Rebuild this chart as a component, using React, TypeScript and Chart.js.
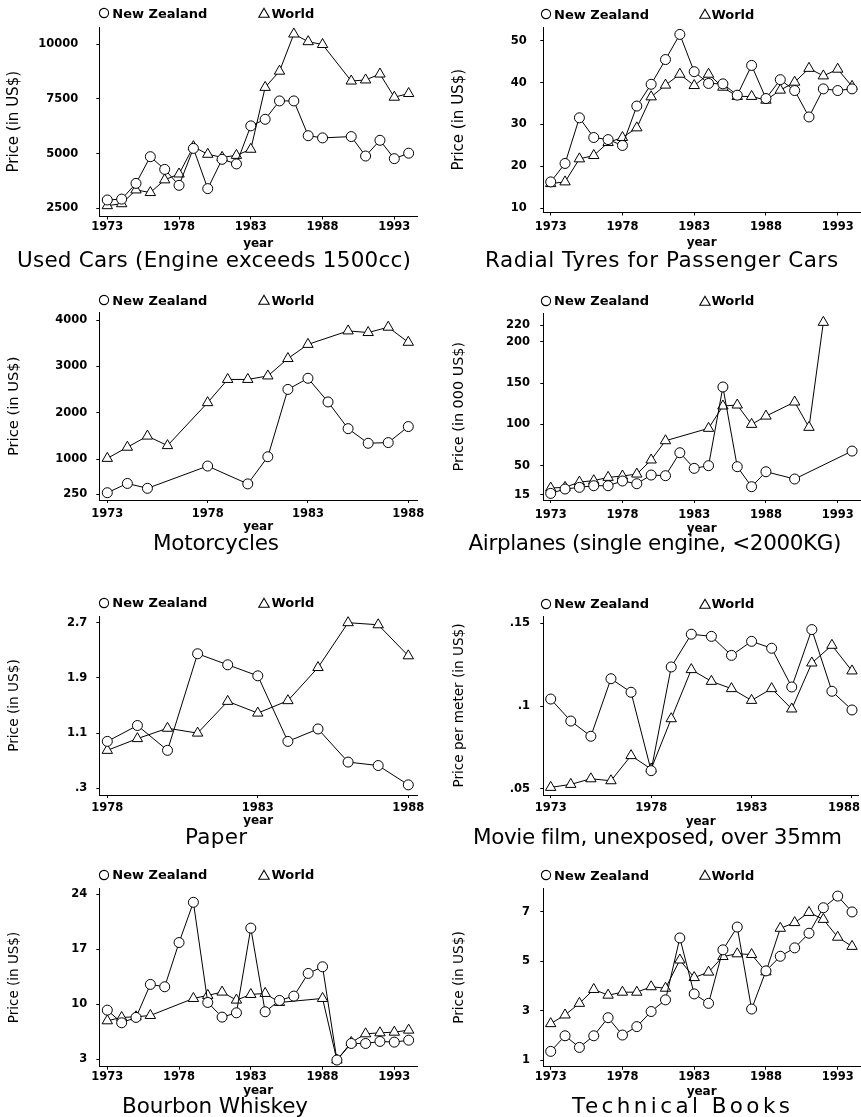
import React, { useEffect, useMemo, useRef } from "react";
import { Chart, registerables } from "chart.js";

Chart.register(...registerables);

const FAMILY = '"DejaVu Sans", "Liberation Sans", sans-serif';
Chart.defaults.font.family = FAMILY;
Chart.defaults.color = "#000";

// ---------------- Data ----------------
// Used Cars (Engine exceeds 1500cc)
const usedCarsNzYears = [1973, 1974, 1975, 1976, 1977, 1978, 1979, 1980, 1981, 1982, 1983, 1984, 1985, 1986, 1987, 1988, 1990, 1991, 1992, 1993, 1994];
const usedCarsNz = [2880, 2920, 3640, 4860, 4280, 3550, 5240, 3400, 4740, 4530, 6270, 6570, 7410, 7410, 5820, 5720, 5780, 4890, 5610, 4770, 5020];
const usedCarsWorldYears = [1973, 1974, 1975, 1976, 1977, 1978, 1979, 1980, 1981, 1982, 1983, 1984, 1985, 1986, 1987, 1988, 1990, 1991, 1992, 1993, 1994];
const usedCarsWorld = [2620, 2710, 3340, 3220, 3800, 4070, 5320, 4970, 4830, 4920, 5200, 8030, 8770, 10470, 10120, 9990, 8320, 8370, 8640, 7580, 7750];
const usedCarsYTicks = [2500, 5000, 7500, 10000];
const usedCarsYTickLabels = ["2500", "5000", "7500", "10000"];

// Radial Tyres for Passenger Cars
const tyresYears = [1973, 1974, 1975, 1976, 1977, 1978, 1979, 1980, 1981, 1982, 1983, 1984, 1985, 1986, 1987, 1988, 1989, 1990, 1991, 1992, 1993, 1994];
const tyresNz = [16.3, 20.7, 31.6, 26.9, 26.4, 25.0, 34.4, 39.6, 45.5, 51.5, 42.6, 39.8, 39.7, 37.0, 44.1, 36.2, 40.7, 38.1, 31.8, 38.5, 38.1, 38.5];
const tyresWorld = [15.9, 16.3, 21.8, 22.6, 25.7, 26.9, 29.2, 36.6, 39.4, 42.0, 39.3, 42.0, 38.9, 36.7, 36.7, 35.8, 38.2, 40.1, 43.4, 41.6, 43.2, 39.1];
const tyresYTicks = [10, 20, 30, 40, 50];
const tyresYTickLabels = ["10", "20", "30", "40", "50"];

// Motorcycles
const motoNzYears = [1973, 1974, 1975, 1978, 1980, 1981, 1982, 1983, 1984, 1985, 1986, 1987, 1988];
const motoNz = [280, 480, 375, 855, 470, 1055, 2505, 2745, 2235, 1660, 1345, 1360, 1705];
const motoWorldYears = [1973, 1974, 1975, 1976, 1978, 1979, 1980, 1981, 1982, 1983, 1985, 1986, 1987, 1988];
const motoWorld = [1020, 1260, 1500, 1295, 2220, 2720, 2720, 2795, 3170, 3475, 3765, 3730, 3845, 3520];
const motoYTicks = [250, 1000, 2000, 3000, 4000];
const motoYTickLabels = ["250", "1000", "2000", "3000", "4000"];

// Airplanes (single engine, <2000KG)
const planesNzYears = [1973, 1974, 1975, 1976, 1977, 1978, 1979, 1980, 1981, 1982, 1983, 1984, 1985, 1986, 1987, 1988, 1990, 1994];
const planesNz = [16.5, 21.8, 23.8, 25.8, 25.8, 31.5, 28.2, 38.7, 37.9, 65.7, 46.8, 50.0, 145.2, 48.8, 24.6, 42.7, 33.9, 67.7];
const planesWorldYears = [1973, 1974, 1975, 1976, 1977, 1978, 1979, 1980, 1981, 1984, 1985, 1986, 1987, 1988, 1990, 1991, 1992];
const planesWorld = [23.0, 23.8, 30.2, 31.9, 35.9, 37.5, 39.9, 56.9, 80.2, 95.2, 122.2, 123.4, 100.0, 110.0, 127.0, 96.4, 223.4];
const planesYTicks = [15, 50, 100, 150, 200, 220];
const planesYTickLabels = ["15", "50", "100", "150", "200", "220"];

// Paper
const paperYears = [1978, 1979, 1980, 1981, 1982, 1983, 1984, 1985, 1986, 1987, 1988];
const paperNz = [0.98, 1.21, 0.85, 2.25, 2.09, 1.93, 0.98, 1.16, 0.68, 0.63, 0.35];
const paperWorld = [0.85, 1.02, 1.17, 1.10, 1.56, 1.39, 1.57, 2.05, 2.70, 2.67, 2.22];
const paperYTicks = [0.3, 1.1, 1.9, 2.7];
const paperYTickLabels = [".3", "1.1", "1.9", "2.7"];

// Movie film, unexposed, over 35mm
const filmYears = [1973, 1974, 1975, 1976, 1977, 1978, 1979, 1980, 1981, 1982, 1983, 1984, 1985, 1986, 1987, 1988];
const filmNz = [0.1042, 0.0909, 0.0817, 0.1165, 0.1083, 0.0609, 0.1236, 0.1434, 0.1421, 0.1306, 0.1391, 0.1349, 0.1115, 0.1462, 0.1089, 0.0976];
const filmWorld = [0.0508, 0.0526, 0.0560, 0.0548, 0.0700, 0.0619, 0.0923, 0.1220, 0.1149, 0.1105, 0.1034, 0.1105, 0.0982, 0.1260, 0.1367, 0.1212];
const filmYTicks = [0.05, 0.1, 0.15];
const filmYTickLabels = [".05", ".1", ".15"];

// Bourbon Whiskey
const bourbonNzYears = [1973, 1974, 1975, 1976, 1977, 1978, 1979, 1980, 1981, 1982, 1983, 1984, 1985, 1986, 1987, 1988, 1989, 1990, 1991, 1992, 1993, 1994];
const bourbonNz = [9.23, 7.62, 8.30, 12.51, 12.21, 17.85, 22.98, 10.21, 8.34, 8.89, 19.69, 9.02, 10.47, 11.02, 13.91, 14.76, 2.87, 4.98, 4.98, 5.24, 5.15, 5.40];
const bourbonWorldYears = [1973, 1974, 1975, 1976, 1979, 1980, 1981, 1982, 1983, 1984, 1985, 1988, 1989, 1990, 1991, 1992, 1993, 1994];
const bourbonWorld = [7.87, 8.30, 8.38, 8.55, 10.72, 11.11, 11.53, 10.51, 11.23, 11.36, 10.21, 10.72, 2.87, 5.11, 6.21, 6.34, 6.42, 6.68];
const bourbonYTicks = [3, 10, 17, 24];
const bourbonYTickLabels = ["3", "10", "17", "24"];

// Technical Books
const booksYears = [1973, 1974, 1975, 1976, 1977, 1978, 1979, 1980, 1981, 1982, 1983, 1984, 1985, 1986, 1987, 1988, 1989, 1990, 1991, 1992, 1993, 1994];
const booksNz = [1.36, 1.99, 1.52, 1.99, 2.72, 2.02, 2.36, 2.97, 3.44, 5.94, 3.68, 3.30, 5.46, 6.38, 3.07, 4.61, 5.20, 5.54, 6.13, 7.16, 7.63, 6.99];
const booksWorld = [2.48, 2.83, 3.30, 3.86, 3.63, 3.75, 3.75, 3.97, 3.91, 5.05, 4.34, 4.56, 5.19, 5.30, 5.27, 4.57, 6.33, 6.56, 6.97, 6.69, 5.97, 5.60];
const booksYTicks = [1, 3, 5, 7];
const booksYTickLabels = ["1", "3", "5", "7"];

// x-axis tick sets
const yearTicksLong = [1973, 1978, 1983, 1988, 1993];
const yearTicksShort = [1973, 1978, 1983, 1988];
const yearTicksPaper = [1978, 1983, 1988];

const seriesNames = ["New Zealand", "World"];

// ---------------- Panel specs ----------------
interface Spec {
  title: string;
  yLabel: string;
  nzYears: number[];
  nz: number[];
  worldYears: number[];
  world: number[];
  xTicks: number[];
  yTicks: number[];
  yTickLabels: string[];
}

interface Box {
  col: 0 | 1;
  left: number; right: number; top: number; bottom: number;
  xCal: number[]; yCal: number[];
  xTickY: number; yearY: number;
  yTitleX: number; yTitleSize: number; yTickPad: number;
  legendY: number;
  titleX: number; titleBase: number; titleW: number;
}

const specs: Spec[] = [
  { title: "Used Cars (Engine exceeds 1500cc)", yLabel: "Price (in US$)", nzYears: usedCarsNzYears, nz: usedCarsNz, worldYears: usedCarsWorldYears, world: usedCarsWorld, xTicks: yearTicksLong, yTicks: usedCarsYTicks, yTickLabels: usedCarsYTickLabels },
  { title: "Radial Tyres for Passenger Cars", yLabel: "Price (in US$)", nzYears: tyresYears, nz: tyresNz, worldYears: tyresYears, world: tyresWorld, xTicks: yearTicksLong, yTicks: tyresYTicks, yTickLabels: tyresYTickLabels },
  { title: "Motorcycles", yLabel: "Price (in US$)", nzYears: motoNzYears, nz: motoNz, worldYears: motoWorldYears, world: motoWorld, xTicks: yearTicksShort, yTicks: motoYTicks, yTickLabels: motoYTickLabels },
  { title: "Airplanes (single engine, <2000KG)", yLabel: "Price (in 000 US$)", nzYears: planesNzYears, nz: planesNz, worldYears: planesWorldYears, world: planesWorld, xTicks: yearTicksLong, yTicks: planesYTicks, yTickLabels: planesYTickLabels },
  { title: "Paper", yLabel: "Price (in US$)", nzYears: paperYears, nz: paperNz, worldYears: paperYears, world: paperWorld, xTicks: yearTicksPaper, yTicks: paperYTicks, yTickLabels: paperYTickLabels },
  { title: "Movie film, unexposed, over 35mm", yLabel: "Price per meter (in US$)", nzYears: filmYears, nz: filmNz, worldYears: filmYears, world: filmWorld, xTicks: yearTicksShort, yTicks: filmYTicks, yTickLabels: filmYTickLabels },
  { title: "Bourbon Whiskey", yLabel: "Price (in US$)", nzYears: bourbonNzYears, nz: bourbonNz, worldYears: bourbonWorldYears, world: bourbonWorld, xTicks: yearTicksLong, yTicks: bourbonYTicks, yTickLabels: bourbonYTickLabels },
  { title: "Technical Books", yLabel: "Price (in US$)", nzYears: booksYears, nz: booksNz, worldYears: booksYears, world: booksWorld, xTicks: yearTicksLong, yTicks: booksYTicks, yTickLabels: booksYTickLabels },
];

const boxes: Box[] = [
  { col: 0, left: 99.3, right: 417, top: 27, bottom: 216.5, xCal: [1973, 107.3, 1993, 394.3], yCal: [2500, 208.3, 10000, 44.3], xTickY: 227.5, yearY: 243.5, yTitleX: 14, yTitleSize: 15, yTickPad: 17, legendY: 13.3, titleX: 214, titleBase: 266.7, titleW: 394 },
  { col: 1, left: 543.3, right: 860, top: 27, bottom: 212.5, xCal: [1973, 550.7, 1993, 837.7], yCal: [10, 208.3, 50, 40.7], xTickY: 227, yearY: 243, yTitleX: 459, yTitleSize: 15, yTickPad: 12.6, legendY: 14, titleX: 661.6, titleBase: 266.7, titleW: 353 },
  { col: 0, left: 99.3, right: 417, top: 312.7, bottom: 500, xCal: [1973, 107.3, 1988, 408.3], yCal: [1000, 459.3, 4000, 320], xTickY: 513.8, yearY: 527.3, yTitleX: 14, yTitleSize: 14.7, yTickPad: 8, legendY: 300, titleX: 216, titleBase: 550, titleW: 126 },
  { col: 1, left: 543.3, right: 860, top: 313.3, bottom: 500, xCal: [1973, 550.7, 1993, 837.7], yCal: [50, 465.7, 200, 341.7], xTickY: 515, yearY: 529, yTitleX: 459, yTitleSize: 14.4, yTickPad: 9.3, legendY: 300.5, titleX: 655, titleBase: 550, titleW: 373 },
  { col: 0, left: 99.3, right: 417, top: 616, bottom: 795, xCal: [1978, 107.3, 1988, 408.3], yCal: [0.3, 788.3, 2.7, 622.7], xTickY: 808, yearY: 820.5, yTitleX: 14, yTitleSize: 13.7, yTickPad: 8, legendY: 602.7, titleX: 216, titleBase: 844, titleW: 62 },
  { col: 1, left: 543.3, right: 858, top: 616, bottom: 795, xCal: [1973, 550.7, 1988, 852], yCal: [0.05, 788.7, 0.15, 623.3], xTickY: 807.8, yearY: 821.5, yTitleX: 459, yTitleSize: 13.6, yTickPad: 9.3, legendY: 603.5, titleX: 657.5, titleBase: 844, titleW: 369 },
  { col: 0, left: 99.3, right: 417, top: 888.3, bottom: 1066.7, xCal: [1973, 107.3, 1993, 394.3], yCal: [3, 1059, 24, 894.3], xTickY: 1076, yearY: 1090.8, yTitleX: 14, yTitleSize: 13.5, yTickPad: 8, legendY: 874.7, titleX: 215, titleBase: 1113, titleW: 186 },
  { col: 1, left: 543.3, right: 860, top: 888.3, bottom: 1066.7, xCal: [1973, 550.7, 1993, 837.7], yCal: [1, 1060.3, 7, 911.7], xTickY: 1076, yearY: 1092, yTitleX: 459, yTitleSize: 13.7, yTickPad: 9.3, legendY: 875.3, titleX: 681, titleBase: 1113, titleW: 218 },
];

const TICK_FONT = { family: FAMILY, size: 11.5, weight: "bold" as const };
const YEAR_SIZE = 12;
const TICK_LEN = 3;

// keeps the x tick labels inside the canvas (the reference shifts its edge label inward)
const keepLabelsInside = {
  id: "keepLabelsInside",
  beforeDraw(chart: any) {
    const s = chart.scales.x;
    if (!s) return;
    const items = s.getLabelItems();
    const ctx = chart.ctx;
    for (const it of items) {
      ctx.save();
      ctx.font = it.font.string;
      const w = ctx.measureText(String(it.label)).width;
      ctx.restore();
      const t = it.options.translation;
      if (t[0] + w / 2 > chart.width - 1) t[0] = chart.width - 1 - w / 2;
    }
  },
};

function PanelChart({ spec, box }: { spec: Spec; box: Box }) {
  const ref = useRef<HTMLCanvasElement | null>(null);
  const cl = box.col ? 430 : 0;
  const cw = box.col ? 431 : 430;
  const ct = Math.floor(box.top - 12);
  const yearHalf = (YEAR_SIZE * 1.2) / 2;
  const ch = Math.ceil(box.yearY + yearHalf - ct);

  useEffect(() => {
    const canvas = ref.current;
    if (!canvas) return;
    const padTop = box.top - ct;
    const padRight = cl + cw - box.right;
    const yW = box.left - cl;
    const xH = ct + ch - box.bottom;
    const yearPadBottom = ct + ch - (box.yearY + yearHalf);

    const [xv1, xp1, xv2, xp2] = box.xCal;
    const xs = (xp2 - xp1) / (xv2 - xv1);
    const xMin = xv1 - (xp1 - box.left) / xs;
    const xMax = xv1 + (box.right - xp1) / xs;
    const [yv1, yp1, yv2, yp2] = box.yCal;
    const ys = (yp1 - yp2) / (yv2 - yv1);
    const yMin = yv1 - (box.bottom - yp1) / ys;
    const yMax = yv1 + (yp1 - box.top) / ys;

    const tickLH = TICK_FONT.size * 1.2;
    const xTickPad = Math.max(0.5, box.xTickY - box.bottom - TICK_LEN - tickLH / 2);
    const yTitleLH = box.yTitleSize * 1.2;
    const yTitlePad = box.yTitleX - cl - yTitleLH / 2;

    const chart = new Chart(canvas, {
      type: "line",
      data: {
        datasets: [
          {
            label: seriesNames[0],
            data: spec.nzYears.map((x, i) => ({ x, y: spec.nz[i] })),
            borderColor: "#000",
            borderWidth: 1,
            pointStyle: "circle",
            pointRadius: 5,
            pointBorderWidth: 1,
            pointBorderColor: "#000",
            pointBackgroundColor: "#fff",
            tension: 0,
            fill: false,
            clip: false as any,
          },
          {
            label: seriesNames[1],
            data: spec.worldYears.map((x, i) => ({ x, y: spec.world[i] })),
            borderColor: "#000",
            borderWidth: 1,
            pointStyle: "triangle",
            pointRadius: 6,
            pointBorderWidth: 1,
            pointBorderColor: "#000",
            pointBackgroundColor: "#fff",
            tension: 0,
            fill: false,
            clip: false as any,
          },
        ],
      },
      options: {
        responsive: false,
        maintainAspectRatio: false,
        animation: false,
        events: [],
        layout: { autoPadding: false, padding: { left: 0, top: padTop, right: padRight, bottom: 0 } },
        plugins: { legend: { display: false }, title: { display: false }, tooltip: { enabled: false } },
        scales: {
          x: {
            type: "linear",
            position: "bottom",
            min: xMin,
            max: xMax,
            afterBuildTicks: (s: any) => {
              s.ticks = spec.xTicks.map((v) => ({ value: v }));
            },
            afterFit: (s: any) => {
              s.height = xH;
              s.paddingLeft = 0;
              s.paddingRight = 0;
            },
            ticks: {
              autoSkip: false,
              maxRotation: 0,
              minRotation: 0,
              padding: xTickPad,
              font: TICK_FONT,
              color: "#000",
              callback: (v: any) => String(v),
            },
            grid: { display: true, drawOnChartArea: false, drawTicks: true, tickLength: TICK_LEN, color: "#000", lineWidth: 1 },
            border: { display: true, color: "#000", width: 1 },
            title: {
              display: true,
              text: "year",
              color: "#000",
              font: { family: FAMILY, size: YEAR_SIZE, weight: "bold" },
              padding: { top: 0, bottom: yearPadBottom },
            },
          },
          y: {
            type: "linear",
            position: "left",
            min: yMin,
            max: yMax,
            afterBuildTicks: (s: any) => {
              s.ticks = spec.yTicks.map((v) => ({ value: v }));
            },
            afterFit: (s: any) => {
              s.width = yW;
              s.paddingTop = 0;
              s.paddingBottom = 0;
            },
            ticks: {
              autoSkip: false,
              padding: box.yTickPad + 1,
              font: TICK_FONT,
              color: "#000",
              callback: (_v: any, i: number) => spec.yTickLabels[i],
            },
            grid: { display: true, drawOnChartArea: false, drawTicks: true, tickLength: TICK_LEN, color: "#000", lineWidth: 1 },
            border: { display: true, color: "#000", width: 1 },
            title: {
              display: true,
              text: spec.yLabel,
              color: "#000",
              font: { family: FAMILY, size: box.yTitleSize, weight: "normal" },
              padding: { top: yTitlePad, bottom: 0 },
            },
          },
        },
      },
      plugins: [keepLabelsInside],
    });
    return () => chart.destroy();
  }, [spec, box]);

  return (
    <canvas
      ref={ref}
      width={cw}
      height={ch}
      style={{ position: "absolute", left: cl, top: ct, width: cw, height: ch }}
    />
  );
}

function Legend({ box }: { box: Box }) {
  const right = box.col === 1;
  const circleCx = right ? 546.2 : 104;
  const nzTextX = right ? 554 : 112.3;
  const triCx = right ? 704.7 : 263.8;
  const worldTextX = right ? 711.4 : 271.4;
  const y = box.legendY;
  const size = 13;
  const textStyle = (left: number): React.CSSProperties => ({
    position: "absolute",
    left,
    top: y + (0.729 * size) / 2 - 0.846 * size,
    fontFamily: FAMILY,
    fontSize: size,
    fontWeight: "bold",
    lineHeight: 1,
    whiteSpace: "nowrap",
    color: "#000",
  });
  return (
    <>
      <svg width={14} height={14} style={{ position: "absolute", left: circleCx - 7, top: y - 7 }}>
        <circle cx={7} cy={7} r={4.6} fill="none" stroke="#000" strokeWidth={1.1} />
      </svg>
      <div style={textStyle(nzTextX)}>{seriesNames[0]}</div>
      <svg width={14} height={14} style={{ position: "absolute", left: triCx - 7, top: y - 7 }}>
        <polygon points="7,2.3 1.8,11.3 12.2,11.3" fill="none" stroke="#000" strokeWidth={1.1} />
      </svg>
      <div style={textStyle(worldTextX)}>{seriesNames[1]}</div>
    </>
  );
}

function PanelTitle({ text, box }: { text: string; box: Box }) {
  const size = 21.5;
  const natural = useMemo(() => {
    const c = document.createElement("canvas").getContext("2d");
    if (!c) return box.titleW;
    c.font = `${size}px ${FAMILY}`;
    return c.measureText(text).width;
  }, [text]);
  const n = Math.max(1, text.length - 1);
  const ls = (box.titleW - natural) / n;
  return (
    <div
      style={{
        position: "absolute",
        left: box.titleX - box.titleW / 2,
        top: box.titleBase - 0.846 * size,
        fontFamily: FAMILY,
        fontSize: size,
        fontWeight: "normal",
        lineHeight: 1,
        letterSpacing: `${ls}px`,
        whiteSpace: "nowrap",
        color: "#000",
      }}
    >
      {text}
    </div>
  );
}

export default function App() {
  return (
    <div
      style={{
        position: "absolute",
        left: 0,
        top: 0,
        width: 861,
        height: 1117,
        overflow: "hidden",
        background: "#fff",
      }}
    >
      {specs.map((spec, i) => (
        <React.Fragment key={i}>
          <PanelChart spec={spec} box={boxes[i]} />
          <Legend box={boxes[i]} />
          <PanelTitle text={spec.title} box={boxes[i]} />
        </React.Fragment>
      ))}
    </div>
  );
}
